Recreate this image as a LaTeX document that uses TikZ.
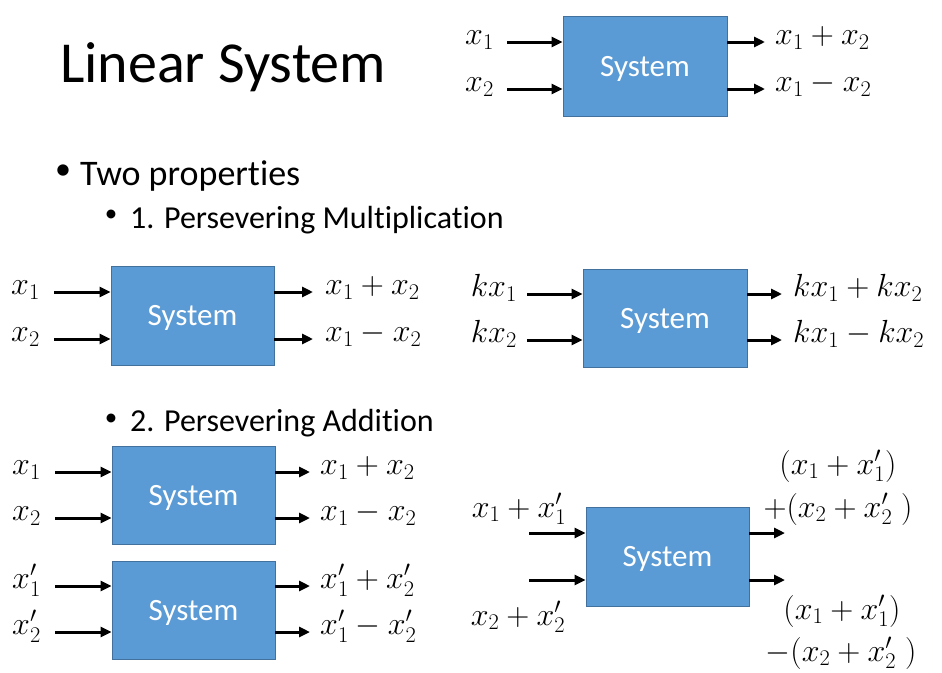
\RequirePackage{fix-cm}
\documentclass[tikz,border=0pt]{standalone}
\usepackage{fontspec}
\setmainfont[Ligatures=NoCommon,RawFeature={-liga;-clig;-calt;-dlig}]{Carlito}
\usetikzlibrary{arrows.meta}
\definecolor{boxfill}{HTML}{5B9BD5}
\definecolor{boxline}{HTML}{41719C}
\newcommand{\tiX}{t\kern0pt i}
\begin{document}
\begin{tikzpicture}[x=1pt,y=-1pt,
  sysbox/.style={draw=boxline, line width=0.9pt, fill=boxfill, text=white,
    font=\fontsize{31}{36}\selectfont, inner sep=0pt, text height=20pt, text depth=0pt},
  arr/.style={line width=3pt, -{Triangle[length=11pt,width=10pt]}},
  mlab/.style={font=\fontsize{32}{38}\selectfont, inner sep=0pt},
  inlab/.style={mlab, anchor=mid east},
  outlab/.style={mlab, anchor=mid west},
  upper/.style={mlab, anchor=base, text depth=3pt},
  lower/.style={mlab, anchor=base, text height=20pt},
  bul/.style={inner sep=0pt, anchor=center}]
\useasboundingbox (0,0) rectangle (942,672);
\fill[white] (0,0) rectangle (942,672);

% titles
\node[anchor=base west, inner sep=0pt, font=\fontsize{58}{64}\selectfont] (title) at (60,82) {Linear System};
\node[bul, font=\fontsize{32}{36}\selectfont] (b1) at (63,172) {•};
\node[anchor=base west, inner sep=0pt, font=\fontsize{36}{42}\selectfont] (two) at (80,185) {Two proper\tiX es};
\node[bul, font=\fontsize{25}{30}\selectfont] (b2) at (111,216) {•};
\node[anchor=base west, inner sep=0pt, font=\fontsize{32}{38}\selectfont] (p1) at (130,228) {1. Persevering Multiplica\tiX on};
\node[bul, font=\fontsize{25}{30}\selectfont] (b3) at (111,420) {•};
\node[anchor=base west, inner sep=0pt, font=\fontsize{32}{38}\selectfont] (p2) at (130,431) {2. Persevering Addi\tiX on};

% ---------- top system ----------
\node[sysbox, minimum width=164pt, minimum height=100pt] (s0) at (645,66) {System};
\coordinate (s0i1) at (507,42);
\coordinate (s0i2) at (507,89);
\coordinate (s0o1) at (765,42);
\coordinate (s0o2) at (765,89);
\draw[arr] (s0i1) -- (s0i1 -| s0.west);
\draw[arr] (s0i2) -- (s0i2 -| s0.west);
\draw[arr] (s0o1 -| s0.east) -- (s0o1);
\draw[arr] (s0o2 -| s0.east) -- (s0o2);
\node[inlab] (s0l1) at ([xshift=-13pt]s0i1) {$x_1$};
\node[inlab] (s0l2) at ([xshift=-13pt]s0i2) {$x_2$};
\node[outlab] (s0r1) at ([xshift=10pt]s0o1) {$x_1+x_2$};
\node[outlab] (s0r2) at ([xshift=10pt]s0o2) {$x_1-x_2$};

% ---------- multiplication left ----------
\node[sysbox, minimum width=163pt, minimum height=99pt] (s1) at (192.5,315.5) {System};
\coordinate (s1i1) at (54,292);
\coordinate (s1i2) at (54,339);
\coordinate (s1o1) at (313,292);
\coordinate (s1o2) at (313,339);
\draw[arr] (s1i1) -- (s1i1 -| s1.west);
\draw[arr] (s1i2) -- (s1i2 -| s1.west);
\draw[arr] (s1o1 -| s1.east) -- (s1o1);
\draw[arr] (s1o2 -| s1.east) -- (s1o2);
\node[inlab] (s1l1) at ([xshift=-14pt]s1i1) {$x_1$};
\node[inlab] (s1l2) at ([xshift=-14pt]s1i2) {$x_2$};
\node[outlab] (s1r1) at ([xshift=12pt]s1o1) {$x_1+x_2$};
\node[outlab] (s1r2) at ([xshift=12pt]s1o2) {$x_1-x_2$};

% ---------- multiplication right ----------
\node[sysbox, minimum width=164pt, minimum height=98pt] (s2) at (665,318) {System};
\coordinate (s2i1) at (527,294);
\coordinate (s2i2) at (527,340);
\coordinate (s2o1) at (782,294);
\coordinate (s2o2) at (782,340);
\draw[arr] (s2i1) -- (s2i1 -| s2.west);
\draw[arr] (s2i2) -- (s2i2 -| s2.west);
\draw[arr] (s2o1 -| s2.east) -- (s2o1);
\draw[arr] (s2o2 -| s2.east) -- (s2o2);
\node[inlab] (s2l1) at ([xshift=-10pt]s2i1) {$kx_1$};
\node[inlab] (s2l2) at ([xshift=-10pt]s2i2) {$kx_2$};
\node[outlab] (s2r1) at ([xshift=11pt]s2o1) {$kx_1+kx_2$};
\node[outlab] (s2r2) at ([xshift=11pt]s2o2) {$kx_1-kx_2$};

% ---------- addition left, first ----------
\node[sysbox, minimum width=163pt, minimum height=98pt] (s3) at (193.5,495) {System};
\coordinate (s3i1) at (55,472);
\coordinate (s3i2) at (55,518);
\coordinate (s3o1) at (310,472);
\coordinate (s3o2) at (310,518);
\draw[arr] (s3i1) -- (s3i1 -| s3.west);
\draw[arr] (s3i2) -- (s3i2 -| s3.west);
\draw[arr] (s3o1 -| s3.east) -- (s3o1);
\draw[arr] (s3o2 -| s3.east) -- (s3o2);
\node[inlab] (s3l1) at ([xshift=-14pt]s3i1) {$x_1$};
\node[inlab] (s3l2) at ([xshift=-14pt]s3i2) {$x_2$};
\node[outlab] (s3r1) at ([xshift=10pt]s3o1) {$x_1+x_2$};
\node[outlab] (s3r2) at ([xshift=10pt]s3o2) {$x_1-x_2$};

% ---------- addition left, second ----------
\node[sysbox, minimum width=163pt, minimum height=98pt] (s4) at (193.5,610) {System};
\coordinate (s4i1) at (55,586);
\coordinate (s4i2) at (55,632);
\coordinate (s4o1) at (310,586);
\coordinate (s4o2) at (310,632);
\draw[arr] (s4i1) -- (s4i1 -| s4.west);
\draw[arr] (s4i2) -- (s4i2 -| s4.west);
\draw[arr] (s4o1 -| s4.east) -- (s4o1);
\draw[arr] (s4o2 -| s4.east) -- (s4o2);
\node[inlab] (s4l1) at ([xshift=-14pt]s4i1) {$x_1'$};
\node[inlab] (s4l2) at ([xshift=-14pt]s4i2) {$x_2'$};
\node[outlab] (s4r1) at ([xshift=10pt]s4o1) {$x_1'+x_2'$};
\node[outlab] (s4r2) at ([xshift=10pt]s4o2) {$x_1'-x_2'$};

% ---------- addition right ----------
\node[sysbox, minimum width=163pt, minimum height=99pt] (s5) at (667.5,556.5) {System};
\coordinate (s5i1) at (529,533);
\coordinate (s5i2) at (529,580);
\coordinate (s5o1) at (785,533);
\coordinate (s5o2) at (785,580);
\draw[arr] (s5i1) -- (s5i1 -| s5.west);
\draw[arr] (s5i2) -- (s5i2 -| s5.west);
\draw[arr] (s5o1 -| s5.east) -- (s5o1);
\draw[arr] (s5o2 -| s5.east) -- (s5o2);
\node[mlab, anchor=base] (s5l1) at (519,517) {$x_1+x_1'$};
\node[mlab, anchor=base] (s5l2) at (518,625) {$x_2+x_2'$};
\node[upper] (s5r1a) at (838,474) {$(x_1+x_1')$};
\node[lower] (s5r1b) at (838,517) {$+(x_2+x_2'\;)$};
\node[upper] (s5r2a) at (842,619) {$(x_1+x_1')$};
\node[lower] (s5r2b) at (841,661) {$-(x_2+x_2'\;)$};
\end{tikzpicture}
\end{document}
